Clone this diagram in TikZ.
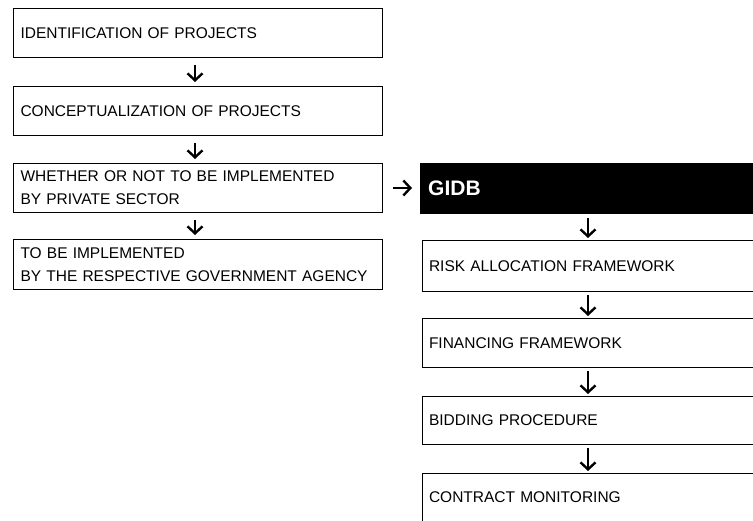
\documentclass[tikz,border=0pt]{standalone}
\usepackage{fontspec}
\setmainfont{Liberation Sans}
\usetikzlibrary{arrows.meta}
\tikzset{
  stepbox/.style={draw=black, line width=1pt, rectangle, anchor=north west,
    inner xsep=7pt, inner ysep=0pt, align=left,
    font=\fontsize{15.5}{23}\selectfont},
  darkbox/.style={fill=black, draw=black, rectangle, anchor=north west,
    inner xsep=8pt, inner ysep=0pt, align=left, text=white,
    font=\fontsize{21}{23}\selectfont\bfseries},
  flow/.style={line width=2.4pt, -{Straight Barb[length=7pt,width=15pt,line width=2.4pt]}}
}
\begin{document}
\begin{tikzpicture}[x=1pt,y=-1pt]
\useasboundingbox (0,0) rectangle (753,521);
\clip (0,0) rectangle (753,521);
% left column
\node[stepbox, text width=355pt, minimum height=49pt] (b1) at (13,8) {IDENTIFICATION OF PROJECTS};
\node[stepbox, text width=355pt, minimum height=49pt] (b2) at (13,86) {CONCEPTUALIZATION OF PROJECTS};
\node[stepbox, text width=355pt, minimum height=49pt] (b3) at (13,163) {WHETHER OR NOT TO BE IMPLEMENTED\\BY PRIVATE SECTOR};
\node[stepbox, text width=355pt, minimum height=50pt] (b4) at (13,239) {TO BE IMPLEMENTED\\BY THE RESPECTIVE GOVERNMENT AGENCY};
% right column
\node[darkbox, text width=317pt, minimum height=50pt] (g) at (420,163) {GIDB};
\node[stepbox, text width=317pt, minimum height=51pt] (r1) at (421.5,240) {RISK ALLOCATION FRAMEWORK};
\node[stepbox, text width=317pt, minimum height=49pt] (r2) at (421.5,318) {FINANCING FRAMEWORK};
\node[stepbox, text width=317pt, minimum height=48pt] (r3) at (421.5,396) {BIDDING PROCEDURE};
\node[stepbox, text width=317pt, minimum height=90pt, text depth=42pt] (r4) at (421.5,473) {CONTRACT MONITORING};
% connectors
\draw[flow, shorten <=7pt, shorten >=4pt] (b1.south -| 195,0) -- (b2.north -| 195,0);
\draw[flow, shorten <=7pt, shorten >=4pt] (b2.south -| 195,0) -- (b3.north -| 195,0);
\draw[flow, shorten <=7pt, shorten >=4pt] (b3.south -| 195,0) -- (b4.north -| 195,0);
\draw[flow, shorten <=10pt, shorten >=8pt] (b3.east |- 0,188) -- (g.west |- 0,188);
\draw[flow, shorten <=5pt, shorten >=2pt] (g.south -| 588,0) -- (r1.north -| 588,0);
\draw[flow, shorten <=3pt, shorten >=2pt] (r1.south -| 588,0) -- (r2.north -| 588,0);
\draw[flow, shorten <=3pt, shorten >=2pt] (r2.south -| 588,0) -- (r3.north -| 588,0);
\draw[flow, shorten <=3pt, shorten >=2pt] (r3.south -| 588,0) -- (r4.north -| 588,0);
\end{tikzpicture}
\end{document}
